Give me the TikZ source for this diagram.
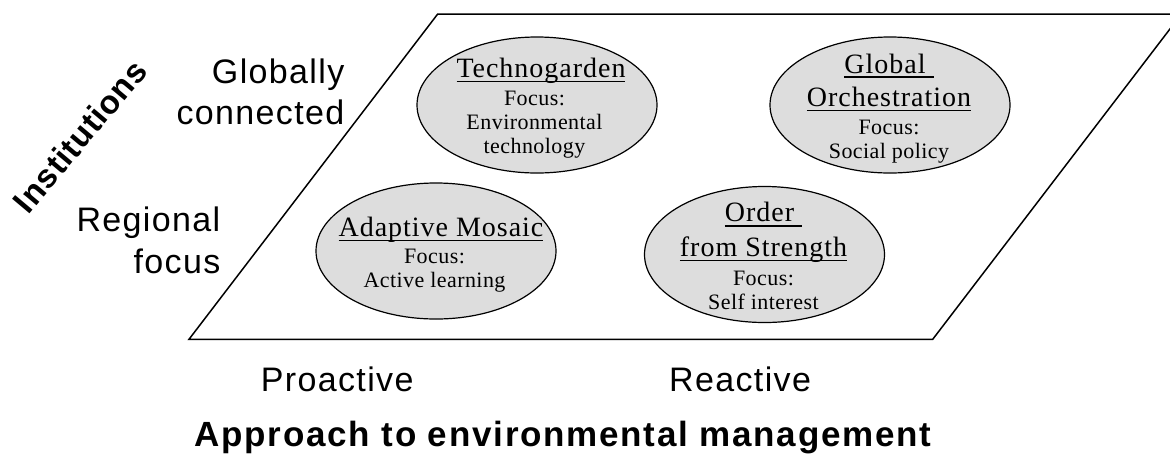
\documentclass[tikz,border=0pt]{standalone}
\usepackage{fontspec}
\setmainfont{Liberation Serif}
\newfontfamily\serifls{Liberation Serif}[LetterSpace=2]
\newfontfamily\titlels{Liberation Serif}[LetterSpace=3.5]
\newfontfamily\sansls{Liberation Sans}[LetterSpace=4]
\newfontfamily\instls{Liberation Sans}[LetterSpace=2.5]
\newfontfamily\apprls{Liberation Sans}[LetterSpace=5]
\usetikzlibrary{shapes.geometric}
\definecolor{bubblegray}{RGB}{221,221,221}
\newcommand\ulin[1]{\setbox0\hbox{#1}\rlap{\rule[-4.7pt]{\wd0}{1.4pt}}\box0}
\newcommand\ttl[1]{{\titlels\fontsize{28}{32}\selectfont\ulin{#1}}}
\tikzset{
  frame/.style={draw=black, line width=1.5pt, line join=miter},
  bubble/.style={ellipse, draw=black, fill=bubblegray, line width=1.2pt,
    minimum width=240pt, minimum height=136pt, inner sep=0pt},
  bubtext/.style={align=center, inner sep=0pt,
    font=\serifls\fontsize{22}{24}\selectfont},
  sanslabel/.style={inner sep=0pt, font=\sansls\fontsize{34}{41.5}\selectfont},
}
\begin{document}
\begin{tikzpicture}[x=1pt,y=-1pt]
\useasboundingbox (0,0) rectangle (1170,459);
\clip (0,0) rectangle (1170,459);
% plane
\coordinate (p1) at (189,339.3);
\coordinate (p2) at (932.7,339.3);
\coordinate (p3) at (1181.4,14);
\coordinate (p4) at (437.7,14);
\draw[frame] (p1) -- (p2) -- (p3) -- (p4) -- cycle;
% bubbles
\node[bubble] (tg) at (537,105) {};
\node[bubble] (go) at (890,105) {};
\node[bubble] (am) at (436,251) {};
\node[bubble] (os) at (764.5,254.5) {};
\node[bubtext] (tgt) at (534.5,108) {\hspace*{13pt}\ttl{Technogarden}\\[4pt]Focus:\\Environmental\\technology};
\node[bubtext] (got) at (889,108.4) {\ttl{Global\ }\\[8pt]\ttl{Orchestration}\\[4pt]Focus:\\Social policy};
\node[bubtext] (amt) at (434.5,254.8) {\hspace*{13pt}\ttl{Adaptive Mosaic}\\[3pt]Focus:\\Active learning};
\node[bubtext] (ost) at (763.5,255.9) {\ttl{Order\ }\\[9pt]\ttl{from Strength}\\[5pt]Focus:\\Self interest};
% axis labels
\node[sanslabel, align=right, anchor=east] (glob) at (344.5,91.8) {Globally\\connected};
\node[sanslabel, align=right, anchor=east] (reg) at (220.5,240.4) {Regional\\focus};
\node[inner sep=0pt, rotate=50, font=\instls\bfseries\fontsize{33}{38}\selectfont] (inst) at (80,136) {Institutions};
\node[sanslabel, anchor=base west] (pro) at (260.7,391) {Proactive};
\node[sanslabel, anchor=base west] (rea) at (669,391) {Reactive};
\node[inner sep=0pt, anchor=base, font=\apprls\bfseries\fontsize{35}{40}\selectfont] (appr) at (563,446) {Approach to environmental management};
\end{tikzpicture}
\end{document}
